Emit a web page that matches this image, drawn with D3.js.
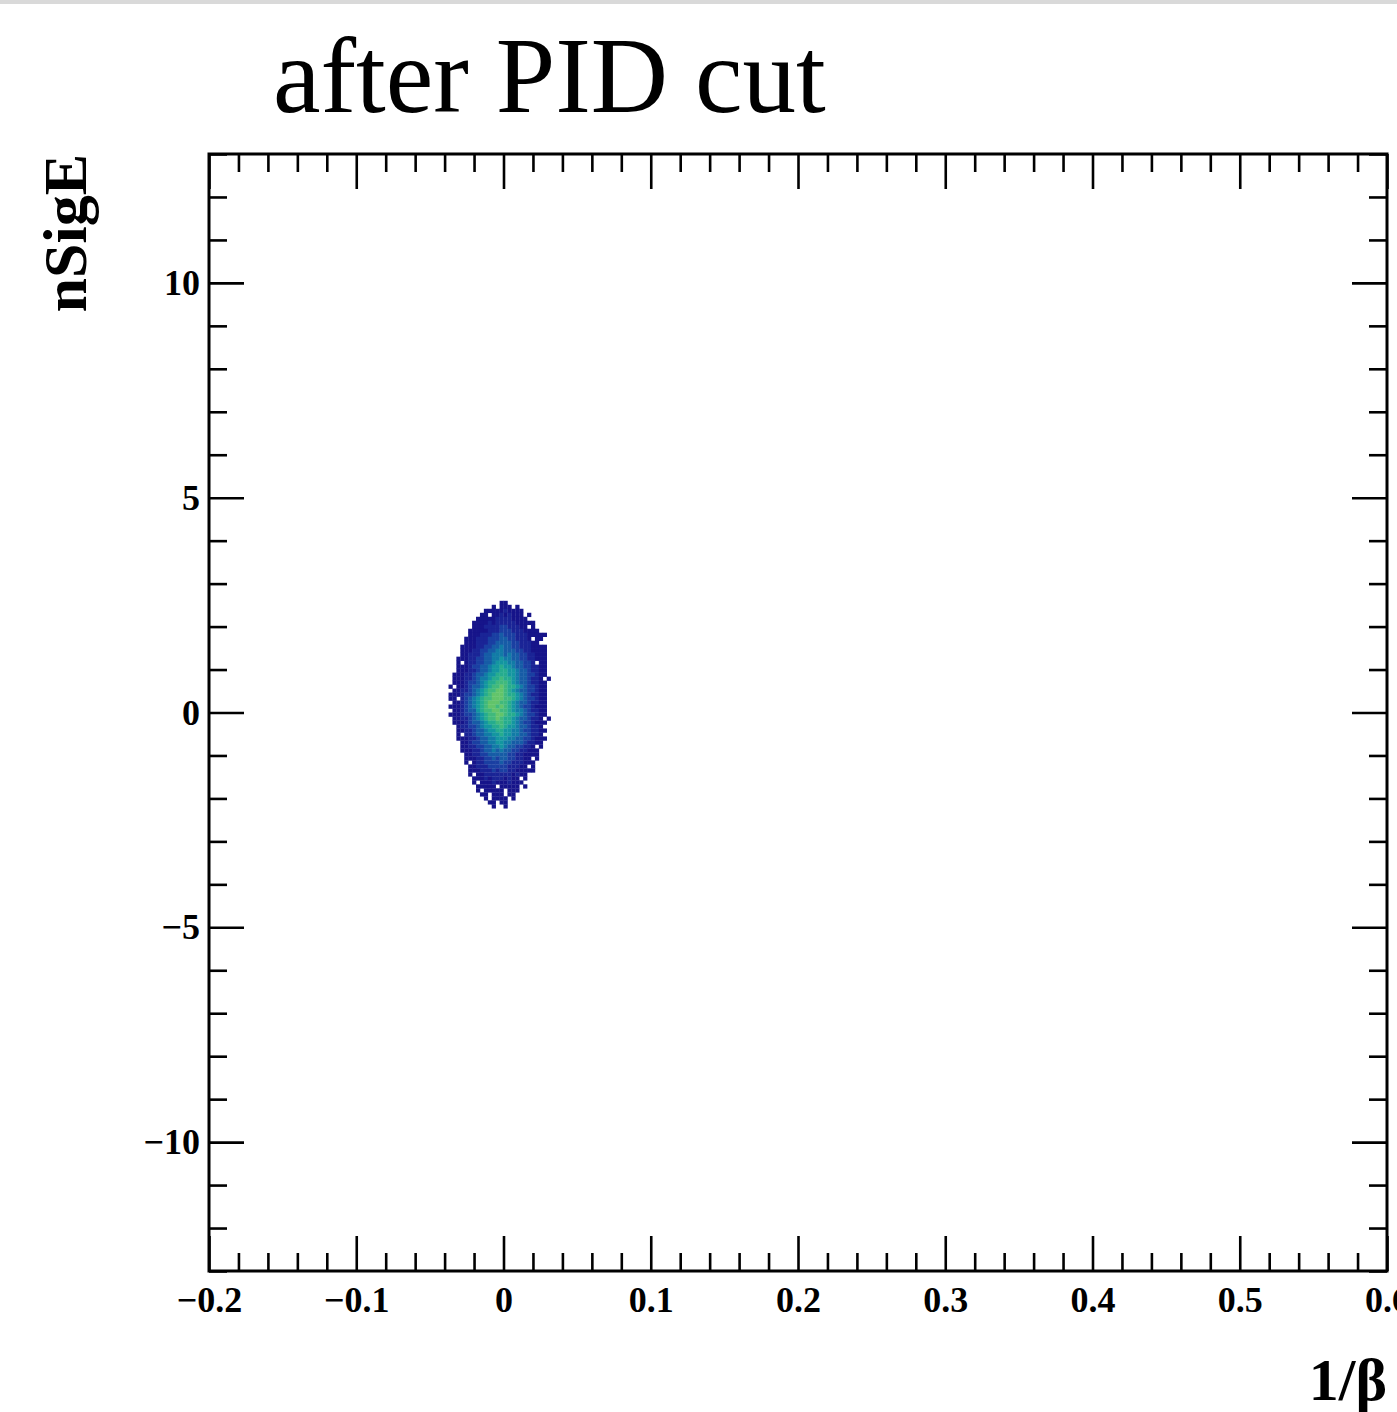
<!DOCTYPE html>
<html>
<head>
<meta charset="utf-8">
<script src="https://cdn.jsdelivr.net/npm/d3@7"></script>
<style>
  html, body { margin: 0; padding: 0; background: #fff; overflow: hidden; }
  svg { display: block; }
</style>
</head>
<body>
<div id="chart"></div>
<script>
// axis ranges and ticks
const xRange = [-0.2, 0.6];
const yRange = [-13, 13];
const xMajorTicks = [-0.2, -0.1, 0, 0.1, 0.2, 0.3, 0.4, 0.5, 0.6];
const yMajorTicks = [-10, -5, 0, 5, 10];
const xMinorStep = 0.02;
const yMinorStep = 1;

// 2D histogram binning (ROOT-like: 300 x bins, 280 y bins)
const binX0 = -0.03733;
const binW = 0.8 / 300;
const binYTop = 2.6;
const binH = 26 / 280;

// cell contents, rows top->bottom, level 0 ('.') .. 9
const countRows = [
  ".............11...........",
  "...........1.111.1........",
  ".........1111121111.......",
  "........11.11212111.1.....",
  ".......1111122221111......",
  "......1111212222211111....",
  "......11122223322211.1....",
  ".....111112223332221111...",
  ".....11122233433322211111.",
  "....11122233344332221.11..",
  "....1112223344443322211...",
  "...1111223344544332221111.",
  "...1112233445544433221111.",
  "...1122234455545443322111.",
  "..11122334455655443322111.",
  "..1.122334456665544332.11.",
  "..11123344566766544332211.",
  "..11122344566776654432211.",
  ".111223445667776654433211.",
  ".11122345567787765443221.1",
  ".111233456778887654432211.",
  "1.11234456788987765433211.",
  ".112234567889987654433211.",
  "1112334567899987765432211.",
  "11.2345678899988765433211.",
  ".112345678999887654432211.",
  "1112345678998987654332111.",
  ".112344678899887655432211.",
  "1112334567889987765433211.",
  ".11223456788987765443221.1",
  ".111234456778877654332111.",
  "..1223345667787665443221..",
  "..11223445667766554332211.",
  "..1.22344556676655443221..",
  "..11122344556665544332111.",
  "...112334455665544432211..",
  "...1122334455654433221.1..",
  "...11122344545443322111...",
  "....1122334444433221111...",
  "....11122334344332211.1...",
  "....1.1223333433222111....",
  ".....112223333322211.1....",
  ".....11122232332211111....",
  ".....1.1122222221211......",
  "......111212221211.1......",
  "......1.11121112111.......",
  ".......11111.11111.1......",
  ".......1.11111.111........",
  "........11.111.11.........",
  ".........1.1111.1.........",
  "..........11.11...........",
  "...........1..1..........."
];

const paletteLevels = [1, 2, 3, 4, 5, 6, 7, 8, 9];
const paletteColors = ["#16148a", "#1a2496", "#1a3fa2", "#165ca6", "#117ba6",
                       "#1396a0", "#25ac8e", "#40b97c", "#62c46a"];

const W = 1397, H = 1412;
const frame = { left: 209, top: 154, right: 1387, bottom: 1271 };

const svg = d3.select("#chart").append("svg")
  .attr("width", W)
  .attr("height", H);

// thin grey strip at the top edge of the screenshot
svg.append("rect")
  .attr("x", 0).attr("y", 0)
  .attr("width", W).attr("height", 4)
  .attr("fill", "#d9d9d9");

const x = d3.scaleLinear().domain(xRange).range([frame.left, frame.right]);
const y = d3.scaleLinear().domain(yRange).range([frame.bottom, frame.top]);
const color = d3.scaleLinear().domain(paletteLevels).range(paletteColors);

// cells
const cells = [];
countRows.forEach((row, r) => {
  row.split("").forEach((ch, c) => {
    if (ch !== ".") cells.push({ r, c, v: +ch });
  });
});

svg.append("g")
  .attr("class", "cells")
  .selectAll("rect")
  .data(cells)
  .join("rect")
    .attr("x", d => x(binX0 + d.c * binW))
    .attr("y", d => y(binYTop - d.r * binH))
    .attr("width", d => x(binX0 + (d.c + 1) * binW) - x(binX0 + d.c * binW) + 0.3)
    .attr("height", d => y(binYTop - (d.r + 1) * binH) - y(binYTop - d.r * binH) + 0.3)
    .attr("fill", d => color(d.v));

// minor tick values
const xMinor = d3.range(xRange[0], xRange[1] + 1e-9, xMinorStep)
  .filter(v => !xMajorTicks.some(m => Math.abs(m - v) < 1e-6));
const yMinor = d3.range(yRange[0], yRange[1] + 1e-9, yMinorStep)
  .filter(v => !yMajorTicks.some(m => Math.abs(m - v) < 1e-6));

const majorLen = 35, minorLen = 18;
const fmtX = v => v === 0 ? "0" : d3.format(".1f")(v).replace("-", "\u2212");
const fmtY = v => d3.format("d")(v).replace("-", "\u2212");

function styleAxis(g) {
  g.select(".domain").remove();
  g.selectAll("line").attr("stroke", "#000").attr("stroke-width", 2.6);
  g.selectAll("text")
    .attr("font-family", "'Liberation Serif', 'Times New Roman', serif")
    .attr("font-weight", "bold")
    .attr("font-size", "36px")
    .attr("fill", "#000");
}

// bottom axis
svg.append("g")
  .attr("transform", `translate(0,${frame.bottom})`)
  .call(d3.axisBottom(x).tickValues(xMajorTicks).tickFormat(fmtX)
    .tickSizeInner(-majorLen).tickSizeOuter(0).tickPadding(15))
  .call(styleAxis);
svg.append("g")
  .attr("transform", `translate(0,${frame.bottom})`)
  .call(d3.axisBottom(x).tickValues(xMinor).tickFormat("")
    .tickSizeInner(-minorLen).tickSizeOuter(0))
  .call(styleAxis);

// top axis (ticks only)
svg.append("g")
  .attr("transform", `translate(0,${frame.top})`)
  .call(d3.axisTop(x).tickValues(xMajorTicks).tickFormat("")
    .tickSizeInner(-majorLen).tickSizeOuter(0))
  .call(styleAxis);
svg.append("g")
  .attr("transform", `translate(0,${frame.top})`)
  .call(d3.axisTop(x).tickValues(xMinor).tickFormat("")
    .tickSizeInner(-minorLen).tickSizeOuter(0))
  .call(styleAxis);

// left axis
svg.append("g")
  .attr("transform", `translate(${frame.left},0)`)
  .call(d3.axisLeft(y).tickValues(yMajorTicks).tickFormat(fmtY)
    .tickSizeInner(-majorLen).tickSizeOuter(0).tickPadding(9))
  .call(styleAxis);
svg.append("g")
  .attr("transform", `translate(${frame.left},0)`)
  .call(d3.axisLeft(y).tickValues(yMinor).tickFormat("")
    .tickSizeInner(-minorLen).tickSizeOuter(0))
  .call(styleAxis);

// right axis (ticks only)
svg.append("g")
  .attr("transform", `translate(${frame.right},0)`)
  .call(d3.axisRight(y).tickValues(yMajorTicks).tickFormat("")
    .tickSizeInner(-majorLen).tickSizeOuter(0))
  .call(styleAxis);
svg.append("g")
  .attr("transform", `translate(${frame.right},0)`)
  .call(d3.axisRight(y).tickValues(yMinor).tickFormat("")
    .tickSizeInner(-minorLen).tickSizeOuter(0))
  .call(styleAxis);

// frame
svg.append("rect")
  .attr("x", frame.left).attr("y", frame.top)
  .attr("width", frame.right - frame.left)
  .attr("height", frame.bottom - frame.top)
  .attr("fill", "none")
  .attr("stroke", "#000")
  .attr("stroke-width", 3);

// title
svg.append("text")
  .attr("x", 273).attr("y", 112)
  .attr("font-family", "'Liberation Serif', 'Times New Roman', serif")
  .attr("font-size", "107px")
  .attr("fill", "#000")
  .text("after PID cut");

// y title
svg.append("text")
  .attr("transform", `translate(86,${frame.top}) rotate(-90)`)
  .attr("text-anchor", "end")
  .attr("font-family", "'Liberation Serif', 'Times New Roman', serif")
  .attr("font-weight", "bold")
  .attr("font-size", "62px")
  .attr("fill", "#000")
  .text("nSigE");

// x title
svg.append("text")
  .attr("x", frame.right).attr("y", 1400)
  .attr("text-anchor", "end")
  .attr("font-family", "'Liberation Serif', 'Times New Roman', serif")
  .attr("font-weight", "bold")
  .attr("font-size", "60px")
  .attr("fill", "#000")
  .text("1/\u03b2");
</script>
</body>
</html>
